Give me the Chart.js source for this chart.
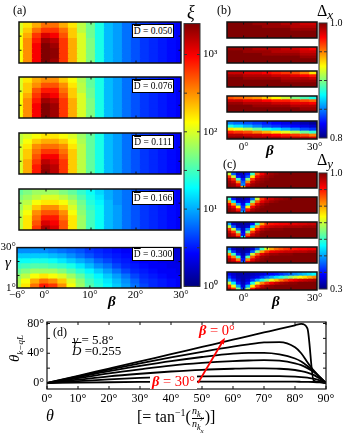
<!DOCTYPE html>
<html><head><meta charset="utf-8">
<script src="https://cdn.jsdelivr.net/npm/chart.js@4.4.1/dist/chart.umd.min.js"></script>
<style>
html,body{margin:0;padding:0;background:#fff;}
body{width:346px;height:434px;position:relative;overflow:hidden;font-family:"Liberation Serif","Times New Roman",serif;color:#000;}
canvas{position:absolute;}
.t{position:absolute;white-space:nowrap;line-height:1;}
.i{font-style:italic;}
.bb{font-weight:bold;font-style:italic;}
.ov{text-decoration:overline;}
.dbox{position:absolute;background:#fff;border:1px solid #000;box-sizing:border-box;width:42px;height:14px;font-size:9.5px;line-height:12px;text-align:center;white-space:nowrap;}
.red{color:#f00;}
.frac{display:inline-flex;flex-direction:column;vertical-align:middle;font-size:10px;line-height:1.05;text-align:center;font-style:italic;margin:0 1px;}
.frac span+span{border-top:1px solid #000;}
sub,sup{line-height:0;}
</style></head><body>

<div class="t" style="left:13px;top:4px;font-size:12px">(a)</div>
<div class="t i" style="left:187px;top:3px;font-size:18px">ξ</div>
<div class="t" style="left:217px;top:4px;font-size:12px">(b)</div>
<div class="t" style="left:317px;top:3px;font-size:16px">Δ<span class="i" style="font-size:13px;position:relative;top:3px">x</span></div>
<div class="t" style="left:223px;top:158px;font-size:12px">(c)</div>
<div class="t" style="left:317px;top:152px;font-size:16px">Δ<span class="i" style="font-size:13px;position:relative;top:3px">y</span></div>

<div class="dbox" style="left:132px;top:24px"><span class="ov">D</span> = 0.050</div>
<div class="dbox" style="left:132px;top:79px"><span class="ov">D</span> = 0.076</div>
<div class="dbox" style="left:132px;top:135px"><span class="ov">D</span> = 0.111</div>
<div class="dbox" style="left:132px;top:191px"><span class="ov">D</span> = 0.166</div>
<div class="dbox" style="left:132px;top:247px"><span class="ov">D</span> = 0.300</div>

<div class="t i" style="left:5px;top:255px;font-size:15px">γ</div>
<div class="t bb" style="left:108px;top:294px;font-size:15px">β</div>
<div class="t bb" style="left:266px;top:143px;font-size:15px">β</div>
<div class="t bb" style="left:272px;top:294px;font-size:15px">β</div>

<div class="t" style="left:53px;top:326px;font-size:12px">(d)</div>
<div class="t" style="left:73px;top:333px;font-size:13px"><span class="i">γ</span> = 5.8°</div>
<div class="t" style="left:72px;top:344px;font-size:13px"><span class="i ov">D</span> =0.255</div>
<div class="t red" style="left:199px;top:323px;font-size:14.5px"><span class="bb">β</span> = 0°</div>
<div class="t red" style="left:150px;top:374px;font-size:14.5px;background:#fff;padding:0 2px"><span class="bb">β</span> = 30°</div>

<div class="t" style="left:7px;top:362px;font-size:15px;transform:rotate(-90deg);transform-origin:0 0"><span class="i">θ</span><sub class="i" style="font-size:9px">k−qL</sub></div>
<div class="t i" style="left:46px;top:408px;font-size:16px">θ</div>
<div class="t" style="left:137px;top:406px;font-size:16px">[= tan<sup style="font-size:10px">−1</sup>(<span class="frac"><span>n<sub>k<sub>y</sub></sub></span><span>n<sub>k<sub>x</sub></sub></span></span>)]</div>

<script>
// ---------------- DATA ----------------
// beta grid (degrees) for the cells of the maps
const betaA = [-6,-4,-2,0,2,4,6,8,10,12,14,16,18,20,22,24,26,28,30];
const betaB = [-6,-2,2,6,10,14,18,22,26,30];
const betaC = [-6,-4,-2,0,2,4,6,8,10,12,14,16,18,20,22,24,26,28,30];
const dBarValues = ['0.050','0.076','0.111','0.166','0.300'];

// (a) log10(xi); rows from gamma = 30° (top) to gamma = 1° (bottom)
const logXi050 = [
 [2.0,2.2,2.4,2.6,2.6,2.4,2.2,1.9,1.65,1.35,1.05,0.95,0.8,0.7,0.6,0.55,0.5,0.45,0.4],
 [2.0,2.3,2.6,2.8,2.8,2.6,2.3,1.9,1.65,1.35,1.05,0.95,0.8,0.7,0.6,0.55,0.5,0.45,0.4],
 [2.1,2.4,2.8,3.1,3.0,2.7,2.3,2.0,1.65,1.35,1.05,0.95,0.8,0.7,0.6,0.55,0.5,0.45,0.4],
 [2.1,2.5,2.9,3.3,3.2,2.8,2.4,2.0,1.7,1.35,1.05,0.95,0.8,0.7,0.6,0.55,0.5,0.45,0.4],
 [2.1,2.5,3.0,3.4,3.3,2.8,2.4,2.0,1.7,1.35,1.05,0.95,0.8,0.7,0.6,0.55,0.5,0.45,0.4],
 [2.1,2.5,3.0,3.4,3.35,2.8,2.4,2.0,1.7,1.35,1.05,0.95,0.8,0.7,0.6,0.55,0.5,0.45,0.4],
 [2.1,2.5,3.0,3.4,3.35,2.8,2.4,2.0,1.7,1.35,1.05,0.95,0.8,0.7,0.6,0.55,0.5,0.45,0.4],
 [2.1,2.5,3.0,3.4,3.3,2.8,2.4,2.0,1.7,1.35,1.05,0.95,0.8,0.7,0.6,0.55,0.5,0.45,0.4]];
const logXi076 = [
 [2.0,2.2,2.4,2.5,2.5,2.3,2.1,1.85,1.6,1.35,1.05,0.95,0.8,0.7,0.6,0.55,0.5,0.45,0.4],
 [2.0,2.3,2.5,2.7,2.7,2.5,2.2,1.9,1.6,1.35,1.05,0.95,0.8,0.7,0.6,0.55,0.5,0.45,0.4],
 [2.0,2.3,2.7,2.9,2.9,2.6,2.3,1.9,1.65,1.35,1.05,0.95,0.8,0.7,0.6,0.55,0.5,0.45,0.4],
 [2.1,2.4,2.8,3.1,3.0,2.7,2.3,2.0,1.65,1.35,1.05,0.95,0.8,0.7,0.6,0.55,0.5,0.45,0.4],
 [2.1,2.5,2.9,3.3,3.2,2.8,2.4,2.0,1.7,1.35,1.05,0.95,0.8,0.7,0.6,0.55,0.5,0.45,0.4],
 [2.1,2.5,3.0,3.4,3.3,2.8,2.4,2.0,1.7,1.35,1.05,0.95,0.8,0.7,0.6,0.55,0.5,0.45,0.4],
 [2.1,2.5,3.0,3.4,3.3,2.8,2.4,2.0,1.7,1.35,1.05,0.95,0.8,0.7,0.6,0.55,0.5,0.45,0.4],
 [2.1,2.5,3.0,3.4,3.3,2.8,2.4,2.0,1.7,1.35,1.05,0.95,0.8,0.7,0.6,0.55,0.5,0.45,0.4]];
const logXi111 = [
 [1.9,2.0,2.1,2.2,2.2,2.1,2.0,1.8,1.6,1.35,1.05,0.95,0.8,0.7,0.6,0.55,0.5,0.45,0.4],
 [1.9,2.1,2.3,2.4,2.4,2.3,2.1,1.85,1.6,1.35,1.05,0.95,0.8,0.7,0.6,0.55,0.5,0.45,0.4],
 [2.0,2.2,2.5,2.6,2.6,2.5,2.2,1.9,1.6,1.35,1.05,0.95,0.8,0.7,0.6,0.55,0.5,0.45,0.4],
 [2.0,2.3,2.6,2.8,2.8,2.6,2.3,1.9,1.6,1.35,1.05,0.95,0.8,0.7,0.6,0.55,0.5,0.45,0.4],
 [2.0,2.3,2.7,3.0,3.0,2.7,2.3,1.9,1.6,1.35,1.05,0.95,0.8,0.7,0.6,0.55,0.5,0.45,0.4],
 [2.0,2.4,2.8,3.2,3.1,2.8,2.3,1.9,1.6,1.35,1.05,0.95,0.8,0.7,0.6,0.55,0.5,0.45,0.4],
 [2.0,2.4,2.9,3.3,3.2,2.8,2.3,1.9,1.6,1.35,1.05,0.95,0.8,0.7,0.6,0.55,0.5,0.45,0.4],
 [2.0,2.4,2.9,3.35,3.2,2.8,2.3,1.9,1.6,1.35,1.05,0.95,0.8,0.7,0.6,0.55,0.5,0.45,0.4]];
const logXi166 = [
 [1.6,1.7,1.8,1.8,1.8,1.7,1.6,1.45,1.3,1.15,1.0,0.9,0.8,0.7,0.6,0.55,0.5,0.45,0.4],
 [1.7,1.8,1.9,2.0,2.0,1.9,1.75,1.55,1.35,1.2,1.0,0.9,0.8,0.7,0.6,0.55,0.5,0.45,0.4],
 [1.8,1.9,2.1,2.2,2.2,2.1,1.9,1.65,1.4,1.25,1.05,0.9,0.8,0.7,0.6,0.55,0.5,0.45,0.4],
 [1.8,2.0,2.3,2.5,2.5,2.3,2.0,1.7,1.45,1.3,1.05,0.95,0.8,0.7,0.6,0.55,0.5,0.45,0.4],
 [1.9,2.1,2.5,2.7,2.7,2.5,2.1,1.75,1.5,1.3,1.05,0.95,0.8,0.7,0.6,0.55,0.5,0.45,0.4],
 [1.9,2.2,2.6,2.9,2.9,2.6,2.2,1.8,1.5,1.3,1.05,0.95,0.8,0.7,0.6,0.55,0.5,0.45,0.4],
 [1.9,2.2,2.7,3.1,3.0,2.7,2.2,1.8,1.5,1.3,1.05,0.95,0.8,0.7,0.6,0.55,0.5,0.45,0.4],
 [1.9,2.2,2.8,3.25,3.1,2.7,2.2,1.8,1.5,1.3,1.05,0.95,0.8,0.7,0.6,0.55,0.5,0.45,0.4]];
const logXi300 = [
 [0.9,0.9,0.9,0.9,0.85,0.8,0.75,0.7,0.6,0.55,0.5,0.45,0.4,0.4,0.35,0.35,0.3,0.3,0.3],
 [1.1,1.1,1.1,1.1,1.05,1.0,0.9,0.8,0.7,0.6,0.55,0.5,0.45,0.4,0.4,0.35,0.35,0.3,0.3],
 [1.3,1.3,1.35,1.35,1.3,1.2,1.1,1.0,0.9,0.75,0.65,0.55,0.5,0.45,0.4,0.4,0.35,0.35,0.3],
 [1.45,1.5,1.55,1.55,1.5,1.45,1.35,1.2,1.05,0.9,0.8,0.65,0.55,0.5,0.45,0.4,0.4,0.35,0.35],
 [1.6,1.7,1.8,1.8,1.8,1.7,1.55,1.4,1.25,1.1,0.95,0.8,0.65,0.55,0.5,0.45,0.4,0.4,0.35],
 [1.75,1.9,2.1,2.2,2.1,2.0,1.8,1.6,1.4,1.25,1.1,0.95,0.8,0.65,0.55,0.5,0.45,0.4,0.4],
 [1.85,2.1,2.4,2.6,2.5,2.3,2.0,1.75,1.5,1.35,1.2,1.05,0.9,0.75,0.6,0.55,0.5,0.45,0.4],
 [1.9,2.2,2.6,2.9,2.8,2.5,2.1,1.8,1.55,1.4,1.25,1.1,0.95,0.8,0.65,0.55,0.5,0.45,0.4]];

// (b) Delta_x in percent
const dxPct050 = [
 [100,100,100,99.5,99.5,99.5,99,99,98.5,98.5],
 [100,100,100,100,99.5,99.5,99.5,99,99,99],
 [100,100,100,100,100,100,100,99.5,99.5,99.5],
 [100,100,100,100,100,100,100,100,100,100],
 [100,100,100,100,100,100,100,100,100,100],
 [100,100,100,100,100,100,100,100,100,100]];
const dxPct076 = [
 [99.5,99.5,99.5,99,99,99,98.5,98.5,98,97.5],
 [100,100,99.5,99.5,99.5,99,99,99,98.5,98.5],
 [100,100,100,100,99.5,99.5,99.5,99.5,99,99],
 [100,100,100,100,100,100,100,100,99.5,99.5],
 [100,100,100,100,100,100,100,100,100,100],
 [100,100,100,100,100,100,100,100,100,100]];
const dxPct111 = [
 [98.5,98.5,98,98,97.5,97,96.5,96,95,93],
 [99.5,99.5,99,99,99,98.5,98.5,98,97.5,97],
 [100,100,99.5,99.5,99.5,99.5,99,99,99,98.5],
 [100,100,100,100,100,100,99.5,99.5,99.5,99.5],
 [100,100,100,100,100,100,100,100,100,100],
 [100,100,100,100,100,100,100,100,100,100]];
const dxPct166 = [
 [96,95.5,95,94.5,93.5,92.5,91.5,90,89,88],
 [98.5,98.5,98,98,97.5,97,97,96.5,96,95.5],
 [99.5,99.5,99,99,99,98.5,98.5,98,98,97.5],
 [100,100,100,99.5,99.5,99.5,99.5,99,99,99],
 [100,100,100,100,100,100,100,100,99.5,99.5],
 [100,100,100,100,100,100,100,100,100,100]];
const dxPct300 = [
 [85,84.5,84,83.5,83,82.5,82,81.5,81,80.5],
 [88,87,86,85,84,83.5,83,82.5,82,81.5],
 [93,92,91,89.5,88,87,86,85,84,83.5],
 [97,96.5,96,95,94,93,92,91,89.5,88.5],
 [99,99,98.5,98.5,98,97.5,97,96.5,96,95],
 [100,100,100,99.5,99.5,99.5,99,99,99,98.5]];

// (c) Delta_y in percent
const dyPct050 = [
 [70,45,35,35,40,60,85,92,96,98,99,100,100,100,100,100,100,100,100],
 [88,70,40,35,45,75,92,96,98,99,100,100,100,100,100,100,100,100,100],
 [95,88,60,40,65,88,96,98,99,100,100,100,100,100,100,100,100,100,100],
 [98,95,82,45,82,95,98,99,100,100,100,100,100,100,100,100,100,100,100],
 [99,98,93,48,93,98,99,100,100,100,100,100,100,100,100,100,100,100,100],
 [100,99,97,80,97,99,100,100,100,100,100,100,100,100,100,100,100,100,100]];
const dyPct076 = [
 [60,40,33,33,35,45,70,88,93,95,97,98,99,100,100,100,100,100,100],
 [80,55,38,35,40,65,85,93,96,98,99,100,100,100,100,100,100,100,100],
 [92,80,50,38,55,82,93,97,99,100,100,100,100,100,100,100,100,100,100],
 [97,92,75,42,75,92,97,99,100,100,100,100,100,100,100,100,100,100,100],
 [99,97,90,45,90,97,99,100,100,100,100,100,100,100,100,100,100,100,100],
 [100,99,96,50,96,99,100,100,100,100,100,100,100,100,100,100,100,100,100]];
const dyPct111 = [
 [50,35,32,32,33,40,60,80,88,90,91,92,92,93,93,94,94,95,95],
 [70,45,35,33,36,55,80,90,94,95,96,96,97,97,97,97,98,98,98],
 [88,70,45,35,48,75,90,96,98,99,99,99,100,100,100,100,100,100,100],
 [95,88,65,38,65,88,96,99,100,100,100,100,100,100,100,100,100,100,100],
 [98,95,85,40,85,95,98,100,100,100,100,100,100,100,100,100,100,100,100],
 [99,98,93,55,93,98,99,100,100,100,100,100,100,100,100,100,100,100,100]];
const dyPct166 = [
 [45,35,32,31,32,35,45,60,72,80,84,86,88,89,90,91,91,92,92],
 [60,42,34,32,34,45,65,80,88,92,93,94,95,95,96,96,96,97,97],
 [80,60,40,33,42,70,85,93,96,98,98,99,99,99,100,100,100,100,100],
 [92,82,60,36,62,85,94,98,99,100,100,100,100,100,100,100,100,100,100],
 [97,93,82,40,82,93,97,99,100,100,100,100,100,100,100,100,100,100,100],
 [99,97,92,45,92,97,99,100,100,100,100,100,100,100,100,100,100,100,100]];
const dyPct300 = [
 [38,35,33,33,33,34,35,36,38,39,40,42,44,46,48,50,52,54,56],
 [42,37,34,33,34,36,38,42,46,50,54,58,62,66,70,73,76,79,82],
 [50,42,36,33,36,42,50,58,65,72,78,83,87,90,92,94,95,96,97],
 [70,55,40,34,40,58,72,82,88,92,95,97,98,99,99,100,100,100,100],
 [88,72,50,36,52,75,88,95,98,99,100,100,100,100,100,100,100,100,100],
 [96,88,65,42,68,90,97,99,100,100,100,100,100,100,100,100,100,100,100]];

// (d) theta_{k-qL} versus theta for beta = 0,5,...,30 deg
const thetaGrid = [0,10,20,30,40,50,60,65,70,75,80,82,84,86,88,90];
const thkBeta0  = [0,9.7,19.4,29.1,38.8,48.5,58.2,63,67.9,72.8,77.6,79.5,73.5,3.5,1.5,0];
const thkBeta5  = [0,9,18,26.5,34.5,42,49,52,54.5,55,48,40,28,17,8,0];
const thkBeta10 = [0,8,16,23,29.5,35,39.5,40.5,40.5,38.5,33,29,23,16,8,0];
const thkBeta15 = [0,6.5,13,18.5,23.5,27,29.5,30.3,30.7,30,26.5,24,20,15,8,0];
const thkBeta20 = [0,4.5,9,12.5,15.5,17.8,19.2,19.6,19.6,19.2,17.5,16,14,11,6,0];
const thkBeta25 = [0,2.5,5,7,8.3,9,9.3,9.3,9.3,9.2,8.5,8,7.2,6,3.5,0];
const thkBeta30 = [0,0.6,1.1,1.5,1.7,1.8,1.9,1.9,1.9,1.9,1.8,1.7,1.6,1.4,0.9,0];
const arrowFrom = [48.7, 0], arrowTo = [57.4, 61];

// tick values
const aXTicks = [-6,0,10,20,30], bcXTicks = [0,30], gammaTicks = [1,30];
const xiTicks = [1,10,100,1000], dxTicks = [80,100], dyTicks = [30,100];
const dXTicks = [0,10,20,30,40,50,60,70,80,90], dYTicks = [0,40,80];

// ---------------- RENDER ----------------
Chart.defaults.font.family = '"Liberation Serif","Times New Roman",serif';
Chart.defaults.color = '#000';
const G_MIN = 1, G_MAX = 30;
const XI_MAX_LOG = 3.4;

function jet(t){
  t = Math.max(0, Math.min(1, t));
  const c = v => Math.round(255*Math.max(0, Math.min(1, v)));
  return `rgb(${c(Math.min(4*t-1.5, -4*t+4.5))},${c(Math.min(4*t-0.5, -4*t+3.5))},${c(Math.min(4*t+0.5, -4*t+2.5))})`;
}
const deg = v => (v < 0 ? '\u2212' + (-v) : v) + '°';

function mkCanvas(x, y, w, h){
  const c = document.createElement('canvas');
  c.width = w; c.height = h;
  c.style.left = x + 'px'; c.style.top = y + 'px';
  c.style.width = w + 'px'; c.style.height = h + 'px';
  document.body.insertBefore(c, document.body.firstChild);
  return c;
}

const framePlugin = {
  id: 'frame',
  afterDatasetsDraw(chart, args, o){
    const {ctx, chartArea: a, scales} = chart;
    ctx.save();
    ctx.strokeStyle = o.color || '#111';
    ctx.lineWidth = 1;
    const L = o.len || 3;
    (o.xt || []).forEach(v => {
      const p = scales.x.getPixelForValue(v);
      ctx.beginPath();
      ctx.moveTo(p, a.bottom); ctx.lineTo(p, a.bottom - L);
      ctx.moveTo(p, a.top); ctx.lineTo(p, a.top + L);
      ctx.stroke();
    });
    (o.yt || []).forEach(v => {
      const p = scales.y.getPixelForValue(v);
      ctx.beginPath();
      ctx.moveTo(a.left, p); ctx.lineTo(a.left + L, p);
      ctx.moveTo(a.right, p); ctx.lineTo(a.right - L, p);
      ctx.stroke();
    });
    ctx.lineWidth = o.width || 1.5;
    ctx.strokeRect(a.left, a.top, a.right - a.left, a.bottom - a.top);
    ctx.restore();
  }
};

const arrowPlugin = {
  id: 'arrow',
  afterDatasetsDraw(chart, args, o){
    if (!o.from) return;
    const {ctx, scales: {x, y}} = chart;
    const x0 = x.getPixelForValue(o.from[0]), y0 = y.getPixelForValue(o.from[1]);
    const x1 = x.getPixelForValue(o.to[0]), y1 = y.getPixelForValue(o.to[1]);
    const ang = Math.atan2(y1 - y0, x1 - x0), hl = 7;
    ctx.save();
    ctx.strokeStyle = ctx.fillStyle = o.color;
    ctx.lineWidth = 1.8;
    ctx.beginPath(); ctx.moveTo(x0, y0);
    ctx.lineTo(x1 - hl*0.8*Math.cos(ang), y1 - hl*0.8*Math.sin(ang)); ctx.stroke();
    ctx.beginPath(); ctx.moveTo(x1, y1);
    ctx.lineTo(x1 - hl*Math.cos(ang - 0.38), y1 - hl*Math.sin(ang - 0.38));
    ctx.lineTo(x1 - hl*Math.cos(ang + 0.38), y1 - hl*Math.sin(ang + 0.38));
    ctx.closePath(); ctx.fill();
    ctx.restore();
  }
};

function heatmap(o){
  const [L, T, R, B] = o.area, [pl, pt, pr, pb] = o.pad;
  const cv = mkCanvas(L - pl, T - pt, R - L + pl + pr, B - T + pt + pb);
  const n = o.rows.length, h = (G_MAX - G_MIN) / n;
  const hasX = !!o.xLabels, hasY = !!o.yLabels;
  const datasets = o.rows.map((row, i) => ({
    data: row.map((v, j) => ({x: o.betas[j], y: [G_MAX - (i + 1) * h, G_MAX - i * h]})),
    backgroundColor: row.map(v => jet(o.norm(v))),
    borderWidth: 0, inflateAmount: 0.6, grouped: false,
    barPercentage: 1, categoryPercentage: 1, clip: 0
  }));
  return new Chart(cv, {
    type: 'bar',
    data: {datasets},
    options: {
      responsive: false, animation: false, devicePixelRatio: 1, events: [],
      layout: {padding: {left: hasY ? 0 : pl, top: pt, right: pr, bottom: hasX ? 0 : pb}},
      plugins: {legend: {display: false}, tooltip: {enabled: false},
        frame: {xt: o.xt, yt: o.yt, len: 2.5, width: 1.5}},
      scales: {
        x: {type: 'linear', min: o.xr[0], max: o.xr[1], offset: false,
            display: hasX,
            grid: {display: false, drawTicks: false, offset: false}, border: {display: false},
            afterBuildTicks: s => { s.ticks = (o.xLabels || []).map(v => ({value: v})); },
            afterFit: s => { s.height = pb; },
            ticks: {padding: o.xPad || 2, font: {size: 11}, callback: v => deg(v), maxRotation: 0, autoSkip: false}},
        y: {type: 'linear', min: G_MIN, max: G_MAX,
            display: hasY,
            grid: {display: false, drawTicks: false}, border: {display: false},
            afterBuildTicks: s => { s.ticks = (o.yLabels || []).map(v => ({value: v})); },
            afterFit: s => { s.width = pl; },
            ticks: {padding: 1, font: {size: 11}, callback: v => deg(v), autoSkip: false}}
      }
    },
    plugins: [framePlugin]
  });
}

function colorbar(o){
  const [L, T, R, B] = o.area, [pl, pt, pr, pb] = o.pad;
  const cv = mkCanvas(L - pl, T - pt, R - L + pl + pr, B - T + pt + pb);
  const grad = c => {
    const ch = c.chart, a = ch.chartArea;
    if (!a) return '#00f';
    const g = ch.ctx.createLinearGradient(0, a.bottom, 0, a.top);
    for (let i = 0; i <= 64; i++) g.addColorStop(i / 64, jet(i / 64));
    return g;
  };
  return new Chart(cv, {
    type: 'bar',
    data: {labels: [''], datasets: [{data: [[o.min, o.max]], backgroundColor: grad,
      borderWidth: 0, barPercentage: 1, categoryPercentage: 1, clip: 0}]},
    options: {
      responsive: false, animation: false, devicePixelRatio: 1, events: [],
      layout: {padding: {left: pl, top: pt, right: 0, bottom: pb}},
      plugins: {legend: {display: false}, tooltip: {enabled: false},
        frame: {yt: o.minor, len: 3, width: 1, color: '#333'}},
      scales: {
        x: {display: false, offset: true},
        y: {type: o.log ? 'logarithmic' : 'linear', position: 'right', min: o.min, max: o.max,
            grid: {display: false, drawTicks: false}, border: {display: false},
            afterBuildTicks: s => { s.ticks = o.labels.map(v => ({value: v})); },
            afterFit: s => { s.width = pr; },
            ticks: {padding: 3, font: {size: o.font}, callback: o.fmt, autoSkip: false}}
      }
    },
    plugins: [framePlugin]
  });
}

// (a)
const aTops = [22, 77, 133, 189, 245];
[logXi050, logXi076, logXi111, logXi166, logXi300].forEach((rows, k) => {
  const last = k === 4;
  heatmap({area: [17, aTops[k], 181, aTops[k] + 43], pad: last ? [17, 5, 12, 16] : [2, 2, 2, 2],
    rows, betas: betaA, norm: v => v / XI_MAX_LOG, xr: [-6, 30],
    xt: [0, 10, 20], yt: [10, 20],
    xLabels: last ? aXTicks : null, yLabels: last ? gammaTicks : null, xPad: 1});
});
// (b)
const bTops = [22, 47, 71, 96, 121];
[dxPct050, dxPct076, dxPct111, dxPct166, dxPct300].forEach((rows, k) => {
  const last = k === 4;
  heatmap({area: [225, bTops[k], 317, bTops[k] + 18], pad: last ? [2, 2, 10, 16] : [2, 2, 2, 2],
    rows, betas: betaB, norm: v => (v - 80) / 20, xr: [-7, 31],
    xt: [0, 10, 20], yt: [],
    xLabels: last ? bcXTicks : null, xPad: 2});
});
// (c)
const cTops = [172, 197, 222, 247, 272];
[dyPct050, dyPct076, dyPct111, dyPct166, dyPct300].forEach((rows, k) => {
  const last = k === 4;
  heatmap({area: [225, cTops[k], 317, cTops[k] + 18], pad: last ? [2, 2, 10, 16] : [2, 2, 2, 2],
    rows, betas: betaC, norm: v => (v - 30) / 70, xr: [-7, 31],
    xt: [0, 10, 20], yt: [],
    xLabels: last ? bcXTicks : null, xPad: 2});
});

// colorbars
const sup = {0: '\u2070', 1: '\u00b9', 2: '\u00b2', 3: '\u00b3'};
colorbar({area: [184, 22, 200, 288], pad: [4, 8, 26, 8], min: 1, max: Math.pow(10, XI_MAX_LOG), log: true,
  labels: xiTicks, minor: [1, 3.162, 10, 31.62, 100, 316.2, 1000], font: 11,
  fmt: v => '10' + sup[Math.round(Math.log10(v))]});
colorbar({area: [319, 22, 327, 139], pad: [3, 8, 19, 8], min: 80, max: 100,
  labels: dxTicks, minor: [85, 90, 95], font: 10, fmt: v => (v / 100).toFixed(1)});
colorbar({area: [319, 172, 327, 290], pad: [3, 8, 19, 8], min: 30, max: 100,
  labels: dyTicks, minor: [40, 50, 60, 70, 80, 90], font: 10, fmt: v => (v / 100).toFixed(1)});

// (d)
const cvD = mkCanvas(0, 310, 346, 100);
const dCurves = [thkBeta0, thkBeta5, thkBeta10, thkBeta15, thkBeta20, thkBeta25, thkBeta30];
new Chart(cvD, {
  type: 'line',
  data: {datasets: dCurves.map(c => ({
    data: thetaGrid.map((t, i) => ({x: t, y: c[i]})),
    borderColor: '#000', borderWidth: 1.8, pointRadius: 0,
    cubicInterpolationMode: 'monotone', fill: false}))},
  options: {
    responsive: false, animation: false, devicePixelRatio: 1, events: [],
    layout: {padding: {left: 0, top: 12, right: 20, bottom: 0}},
    plugins: {legend: {display: false}, tooltip: {enabled: false},
      frame: {xt: dXTicks, yt: [0, 20, 40, 60, 80], len: 3, width: 1.2},
      arrow: {from: arrowFrom, to: arrowTo, color: '#f00'}},
    scales: {
      x: {type: 'linear', min: 0, max: 90,
          grid: {display: false, drawTicks: false}, border: {display: false},
          afterBuildTicks: s => { s.ticks = dXTicks.map(v => ({value: v})); },
          afterFit: s => { s.height = 21; },
          ticks: {padding: 3, font: {size: 12}, callback: v => deg(v), maxRotation: 0, autoSkip: false}},
      y: {type: 'linear', min: -8, max: 82,
          grid: {display: false, drawTicks: false}, border: {display: false},
          afterBuildTicks: s => { s.ticks = dYTicks.map(v => ({value: v})); },
          afterFit: s => { s.width = 47; },
          ticks: {padding: 3, font: {size: 12}, callback: v => deg(v), autoSkip: false}}
    }
  },
  plugins: [framePlugin, arrowPlugin]
});
</script>
</body></html>
